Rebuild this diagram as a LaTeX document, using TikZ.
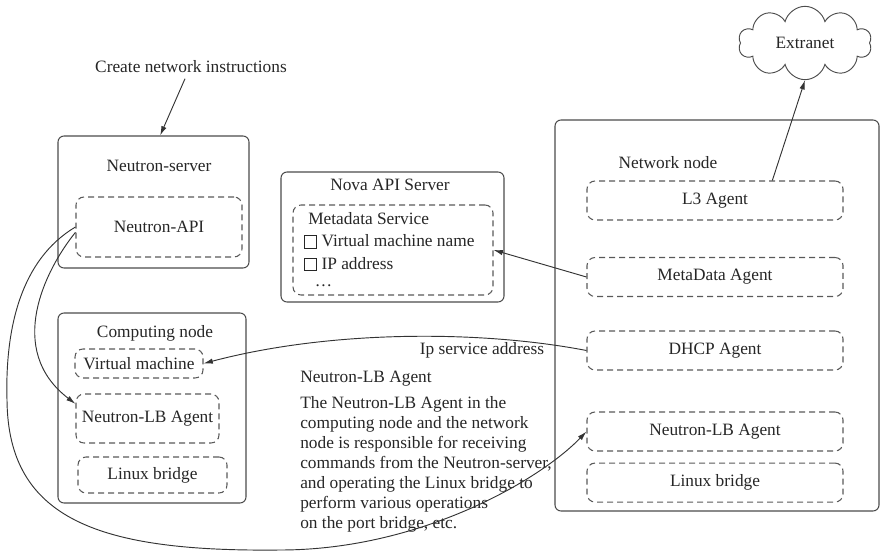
\documentclass[tikz,border=0pt]{standalone}
\usepackage{fontspec}
\setmainfont{Liberation Serif}
\usepackage{tikz}
\usetikzlibrary{shapes.symbols, arrows.meta, positioning}

\newcommand{\chkbox}{{\setlength{\fboxsep}{0pt}\setlength{\fboxrule}{0.6pt}%
  \raisebox{-0.5pt}{\fbox{\rule{0pt}{8.5pt}\hspace{8.5pt}}}}}

\begin{document}
\begin{tikzpicture}[
  x=0.75pt, y=-0.75pt,
  font=\fontsize{13}{15}\selectfont,
  every node/.style={text=black!85},
  hostbox/.style={rectangle, draw=black!70, rounded corners=4.5pt, line width=0.8pt},
  agentbox/.style={rectangle, draw=black!65, dash pattern=on 4.5pt off 3pt,
                   rounded corners=6pt, line width=0.8pt},
  netagent/.style={agentbox, minimum width=192pt, minimum height=29.25pt},
  plain/.style={inner sep=0pt},
  arrow/.style={-{Latex[length=7pt, width=4pt]}, draw=black!80, line width=0.7pt}
]
\useasboundingbox (0,0) rectangle (881,552);

\node[plain] (cmd) at (191,67) {Create network instructions};

\node[hostbox, minimum width=143.25pt, minimum height=99pt] (server) at (153.5,202) {};
\node[plain] (serverlbl) at (159,166) {Neutron-server};
\node[agentbox, minimum width=124.5pt, minimum height=45pt] (api) at (159,227) {Neutron-API};

\node[hostbox, minimum width=167.25pt, minimum height=97.5pt] (nova) at (392.5,237) {};
\node[plain] (novalbl) at (390,185) {Nova API Server};
\node[agentbox, minimum width=150pt, minimum height=67.5pt] (meta) at (393,250) {};
\node[plain, align=left, anchor=north west, font=\fontsize{13}{17}\selectfont] (metatext) at (304,212) {%
  \hspace{3pt}Metadata Service\\
  \chkbox{} Virtual machine name\\
  \chkbox{} IP address\\[-4pt]
  \hspace{8pt}\dots};

\node[hostbox, minimum width=243pt, minimum height=293.25pt] (net) at (717,315.5) {};
\node[plain] (netlbl) at (668,163) {Network node};
\node[netagent] (l3) at (715,200.5) {L3 Agent};
\node[netagent] (mdagent) at (715,277) {MetaData Agent};
\node[netagent] (dhcp) at (715,350.5) {DHCP Agent};
\node[netagent] (netlb) at (715,431.5) {Neutron-LB Agent};
\node[netagent, below=8.25pt of netlb] (netbr) {Linux bridge};

\node[cloud, draw=black!70, line width=0.7pt, cloud puffs=10, aspect=1.8,
      minimum width=100pt, minimum height=55pt] (extranet) at (805,43) {Extranet};

\node[hostbox, minimum width=141pt, minimum height=142.5pt] (comp) at (152,408) {};
\node[plain] (complbl) at (155,333) {Computing node};
\node[agentbox, minimum width=96pt, minimum height=21.75pt, inner sep=1pt] (vm) at (139,363.5) {Virtual machine};
\node[agentbox, minimum width=107.25pt, minimum height=36.75pt] (complb) at (147.5,418.5) {Neutron-LB Agent};
\node[agentbox, minimum width=111.75pt, minimum height=27pt] (compbr) at (152.5,475) {Linux bridge};

\node[plain] (iplbl) at (482,350) {Ip service address};
\node[plain, anchor=base west] (lbhead) at (300,382) {Neutron-LB Agent};
\node[plain, align=left, anchor=north west] (lbtext) at (300,396) {%
  The Neutron-LB Agent in the\\
  computing node and the network\\
  node is responsible for receiving\\
  commands from the Neutron-server,\\
  and operating the Linux bridge to\\
  perform various operations\\
  on the port bridge, etc.};

\draw[arrow] ([shift={(-4.5pt,-4pt)}]cmd.south) -- ([xshift=5pt]server.north);
\draw[arrow] ([xshift=43pt]l3.north) -- (extranet.south);
\draw[arrow] (mdagent.west) -- (meta.east);
\draw[arrow] (dhcp.west) .. controls (480,330) and (330,330) .. (vm.east);
\draw[arrow] ([yshift=-4pt]api.west) .. controls (45,270) and (5,350) .. ([yshift=11pt]complb.west);
\draw[arrow] (api.west) .. controls (20,260) and (5,330) .. (7,400)
  .. controls (8,520) and (100,552) .. (280,550)
  .. controls (420,550) and (540,480) .. (netlb.west);
\end{tikzpicture}
\end{document}
